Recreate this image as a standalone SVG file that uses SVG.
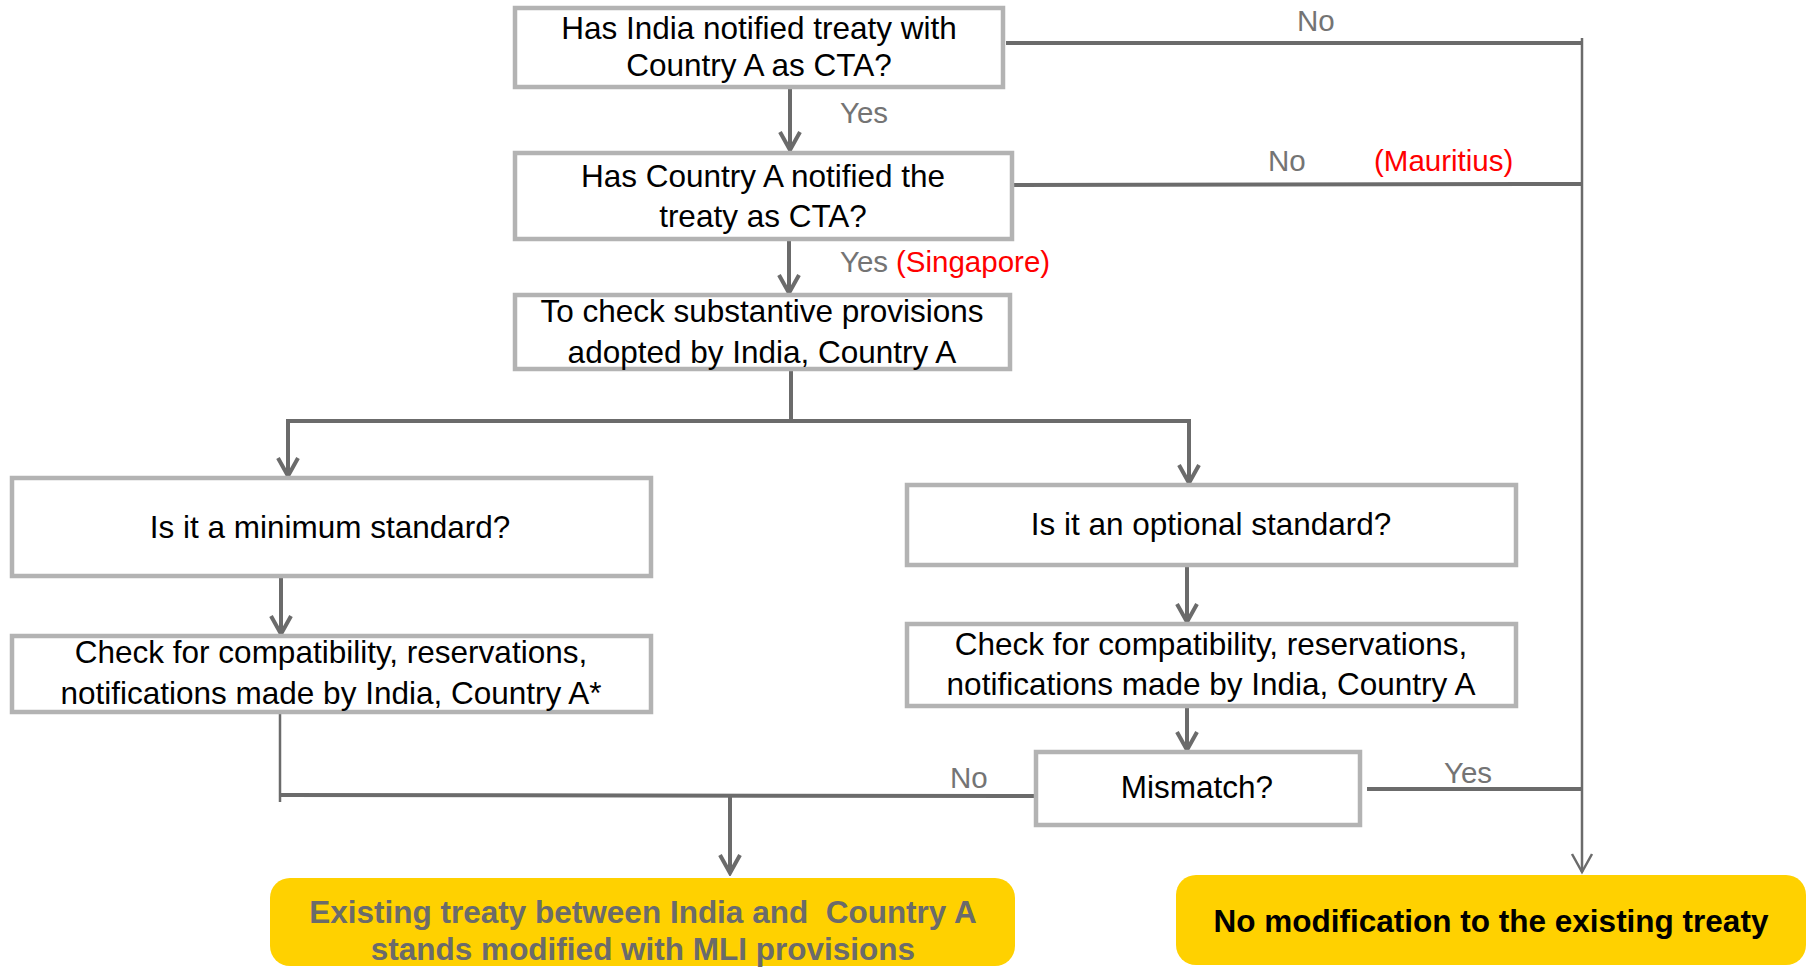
<svg xmlns="http://www.w3.org/2000/svg" width="1816" height="967" viewBox="0 0 1816 967">
  <style>
    .box { fill: #ffffff; stroke: #b3b3b3; stroke-width: 4.5; }
    .term { fill: #ffd100; stroke: none; }
    .t { font-family: "Liberation Sans", Arial, sans-serif; font-size: 31.5px; fill: #000000; text-anchor: middle; }
    .tb { font-family: "Liberation Sans", Arial, sans-serif; font-size: 31.5px; font-weight: bold; text-anchor: middle; }
    .lbl { font-family: "Liberation Sans", Arial, sans-serif; font-size: 29.5px; fill: #747474; }
    .red { fill: #ff0000; }
    .ln { stroke: #6b6b6b; stroke-width: 4; fill: none; }
    .thin { stroke: #6b6b6b; stroke-width: 2.5; fill: none; }
  </style>
  <defs>
    <marker id="arr" markerUnits="userSpaceOnUse" viewBox="0 0 24 24" markerWidth="24" markerHeight="24" refX="21" refY="12" orient="auto">
      <path d="M3,2 L21,12 L3,22" fill="none" stroke="#6b6b6b" stroke-width="4" stroke-linejoin="miter"/>
    </marker>
    <marker id="arrThin" markerUnits="userSpaceOnUse" viewBox="0 0 24 24" markerWidth="24" markerHeight="24" refX="21" refY="12" orient="auto">
      <path d="M3,2 L21,12 L3,22" fill="none" stroke="#6b6b6b" stroke-width="2.5"/>
    </marker>
  </defs>

  <rect width="1816" height="967" fill="#ffffff"/>

  <!-- connectors -->
  <g id="connectors">
    <line class="ln" x1="1006" y1="43" x2="1582" y2="43"/>
    <line class="ln" x1="1014" y1="185" x2="1582" y2="184"/>
    <line class="thin" x1="1582" y1="38" x2="1582" y2="872" marker-end="url(#arrThin)"/>
    <line class="ln" x1="1367" y1="789" x2="1582" y2="789"/>

    <line class="ln" x1="790" y1="88" x2="790" y2="150" marker-end="url(#arr)"/>
    <line class="ln" x1="789" y1="240" x2="789" y2="293" marker-end="url(#arr)"/>
    <line class="ln" x1="791" y1="370" x2="791" y2="421"/>
    <line class="ln" x1="287" y1="421" x2="1190" y2="421"/>
    <line class="ln" x1="288" y1="419" x2="288" y2="476" marker-end="url(#arr)"/>
    <line class="ln" x1="1189" y1="419" x2="1189" y2="483" marker-end="url(#arr)"/>

    <line class="ln" x1="281" y1="577" x2="281" y2="634" marker-end="url(#arr)"/>
    <line class="ln" x1="1187" y1="566" x2="1187" y2="622" marker-end="url(#arr)"/>
    <line class="ln" x1="1187" y1="707" x2="1187" y2="750" marker-end="url(#arr)"/>

    <line class="thin" x1="280" y1="713" x2="280" y2="802"/>
    <line class="ln" x1="280" y1="795" x2="1036" y2="796"/>
    <line class="ln" x1="730" y1="795" x2="730" y2="873" marker-end="url(#arr)"/>

    <text class="lbl" x="1297" y="31">No</text>
    <text class="lbl" x="840" y="123">Yes</text>
    <text class="lbl" x="1268" y="171">No</text>
    <text class="lbl red" x="1374" y="171">(Mauritius)</text>
    <text class="lbl" x="840" y="272">Yes</text>
    <text class="lbl red" x="896" y="272">(Singapore)</text>
    <text class="lbl" x="950" y="788">No</text>
    <text class="lbl" x="1444" y="783">Yes</text>
  </g>

  <g id="india-cta">
    <rect class="box" x="515" y="8" width="488" height="79"/>
    <text class="t" x="759" y="39">Has India notified treaty with</text>
    <text class="t" x="759" y="76">Country A as CTA?</text>
  </g>

  <g id="country-cta">
    <rect class="box" x="515" y="153" width="497" height="86"/>
    <text class="t" x="763" y="187">Has Country A notified the</text>
    <text class="t" x="763" y="227">treaty as CTA?</text>
  </g>

  <g id="substantive">
    <rect class="box" x="515" y="295" width="495" height="74"/>
    <text class="t" x="762" y="322">To check substantive provisions</text>
    <text class="t" x="762" y="363">adopted by India, Country A</text>
  </g>

  <g id="minimum">
    <rect class="box" x="12" y="478" width="639" height="98"/>
    <text class="t" x="330" y="538">Is it a minimum standard?</text>
  </g>

  <g id="check-min">
    <rect class="box" x="12" y="636" width="639" height="76"/>
    <text class="t" x="331" y="663">Check for compatibility, reservations,</text>
    <text class="t" x="331" y="704">notifications made by India, Country A*</text>
  </g>

  <g id="optional">
    <rect class="box" x="907" y="485" width="609" height="80"/>
    <text class="t" x="1211" y="535">Is it an optional standard?</text>
  </g>

  <g id="check-opt">
    <rect class="box" x="907" y="624" width="609" height="82"/>
    <text class="t" x="1211" y="655">Check for compatibility, reservations,</text>
    <text class="t" x="1211" y="695">notifications made by India, Country A</text>
  </g>

  <g id="mismatch">
    <rect class="box" x="1036" y="752" width="324" height="73"/>
    <text class="t" x="1197" y="798">Mismatch?</text>
  </g>

  <g id="modified">
    <rect class="term" x="270" y="878" width="745" height="88" rx="20"/>
    <text class="tb" x="643" y="923" fill="#6b6b6b" xml:space="preserve">Existing treaty between India and  Country A</text>
    <text class="tb" x="643" y="960" fill="#6b6b6b">stands modified with MLI provisions</text>
  </g>

  <g id="no-modification">
    <rect class="term" x="1176" y="875" width="630" height="90" rx="20"/>
    <text class="tb" x="1491" y="932" fill="#000000">No modification to the existing treaty</text>
  </g>
</svg>
